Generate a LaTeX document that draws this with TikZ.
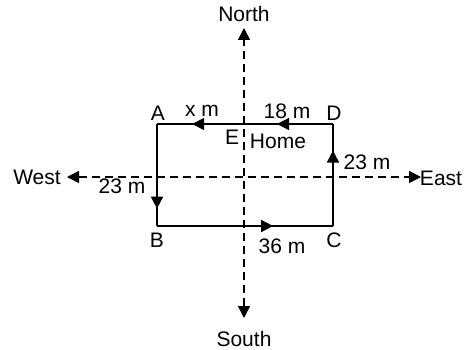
\documentclass[tikz,border=0pt]{standalone}
\usepackage{fontspec}
\setmainfont{Liberation Sans}
\usetikzlibrary{arrows.meta,decorations.markings}
\begin{document}
\begin{tikzpicture}[x=1pt,y=-1pt,
  lbl/.style={inner sep=0pt,font=\fontsize{21}{25}\selectfont},
  axis/.style={line width=1.4pt,dash pattern=on 8pt off 5pt,{Triangle[length=12pt,width=12pt]}-{Triangle[length=12pt,width=12pt]}},
  edge/.style={line width=1.5pt}]
\useasboundingbox (0,0) rectangle (465,350);
% corners
\coordinate (A) at (157,124);
\coordinate (B) at (157,226);
\coordinate (C) at (333,226);
\coordinate (D) at (333,124);
% axis ends
\coordinate (Ntip) at (244,28);
\coordinate (Stip) at (244,318);
\coordinate (Wtip) at (67,177);
\coordinate (Etip) at (421,177);
% axes
\draw[axis] (Stip) -- (Ntip);
\draw[axis] (Wtip) -- (Etip);
% path
\draw[edge,decoration={markings,
   mark=at position 0.318 with {\arrow{Triangle[length=12pt,width=12pt]}},
   mark=at position 0.80 with {\arrow{Triangle[length=12pt,width=12pt]}}},postaction={decorate}] (D) -- (A);
\draw[edge,decoration={markings,
   mark=at position 0.83 with {\arrow{Triangle[length=12pt,width=12pt]}}},postaction={decorate}] (A) -- (B);
\draw[edge,decoration={markings,
   mark=at position 0.66 with {\arrow{Triangle[length=12pt,width=12pt]}}},postaction={decorate}] (B) -- (C);
\draw[edge,decoration={markings,
   mark=at position 0.74 with {\arrow{Triangle[length=12pt,width=12pt]}}},postaction={decorate}] (C) -- (D);
% labels
\node[lbl] (north) at (244,14) {North};
\node[lbl] (south) at (244,339) {South};
\node[lbl] (west) at (37,177) {West};
\node[lbl] (east) at (441,178) {East};
\node[lbl] (la) at (158,113) {A};
\node[lbl] (ld) at (334,113) {D};
\node[lbl] (lb) at (157,240) {B};
\node[lbl] (lc) at (334,240) {C};
\node[lbl] (le) at (232,137) {E};
\node[lbl] (home) at (278,141) {Home};
\node[lbl] (xm) at (202,111) {x m};
\node[lbl] (m18) at (287,111) {18 m};
\node[lbl] (m23r) at (367,162) {23 m};
\node[lbl] (m23l) at (122,186) {23 m};
\node[lbl] (m36) at (282,246) {36 m};
\end{tikzpicture}
\end{document}
